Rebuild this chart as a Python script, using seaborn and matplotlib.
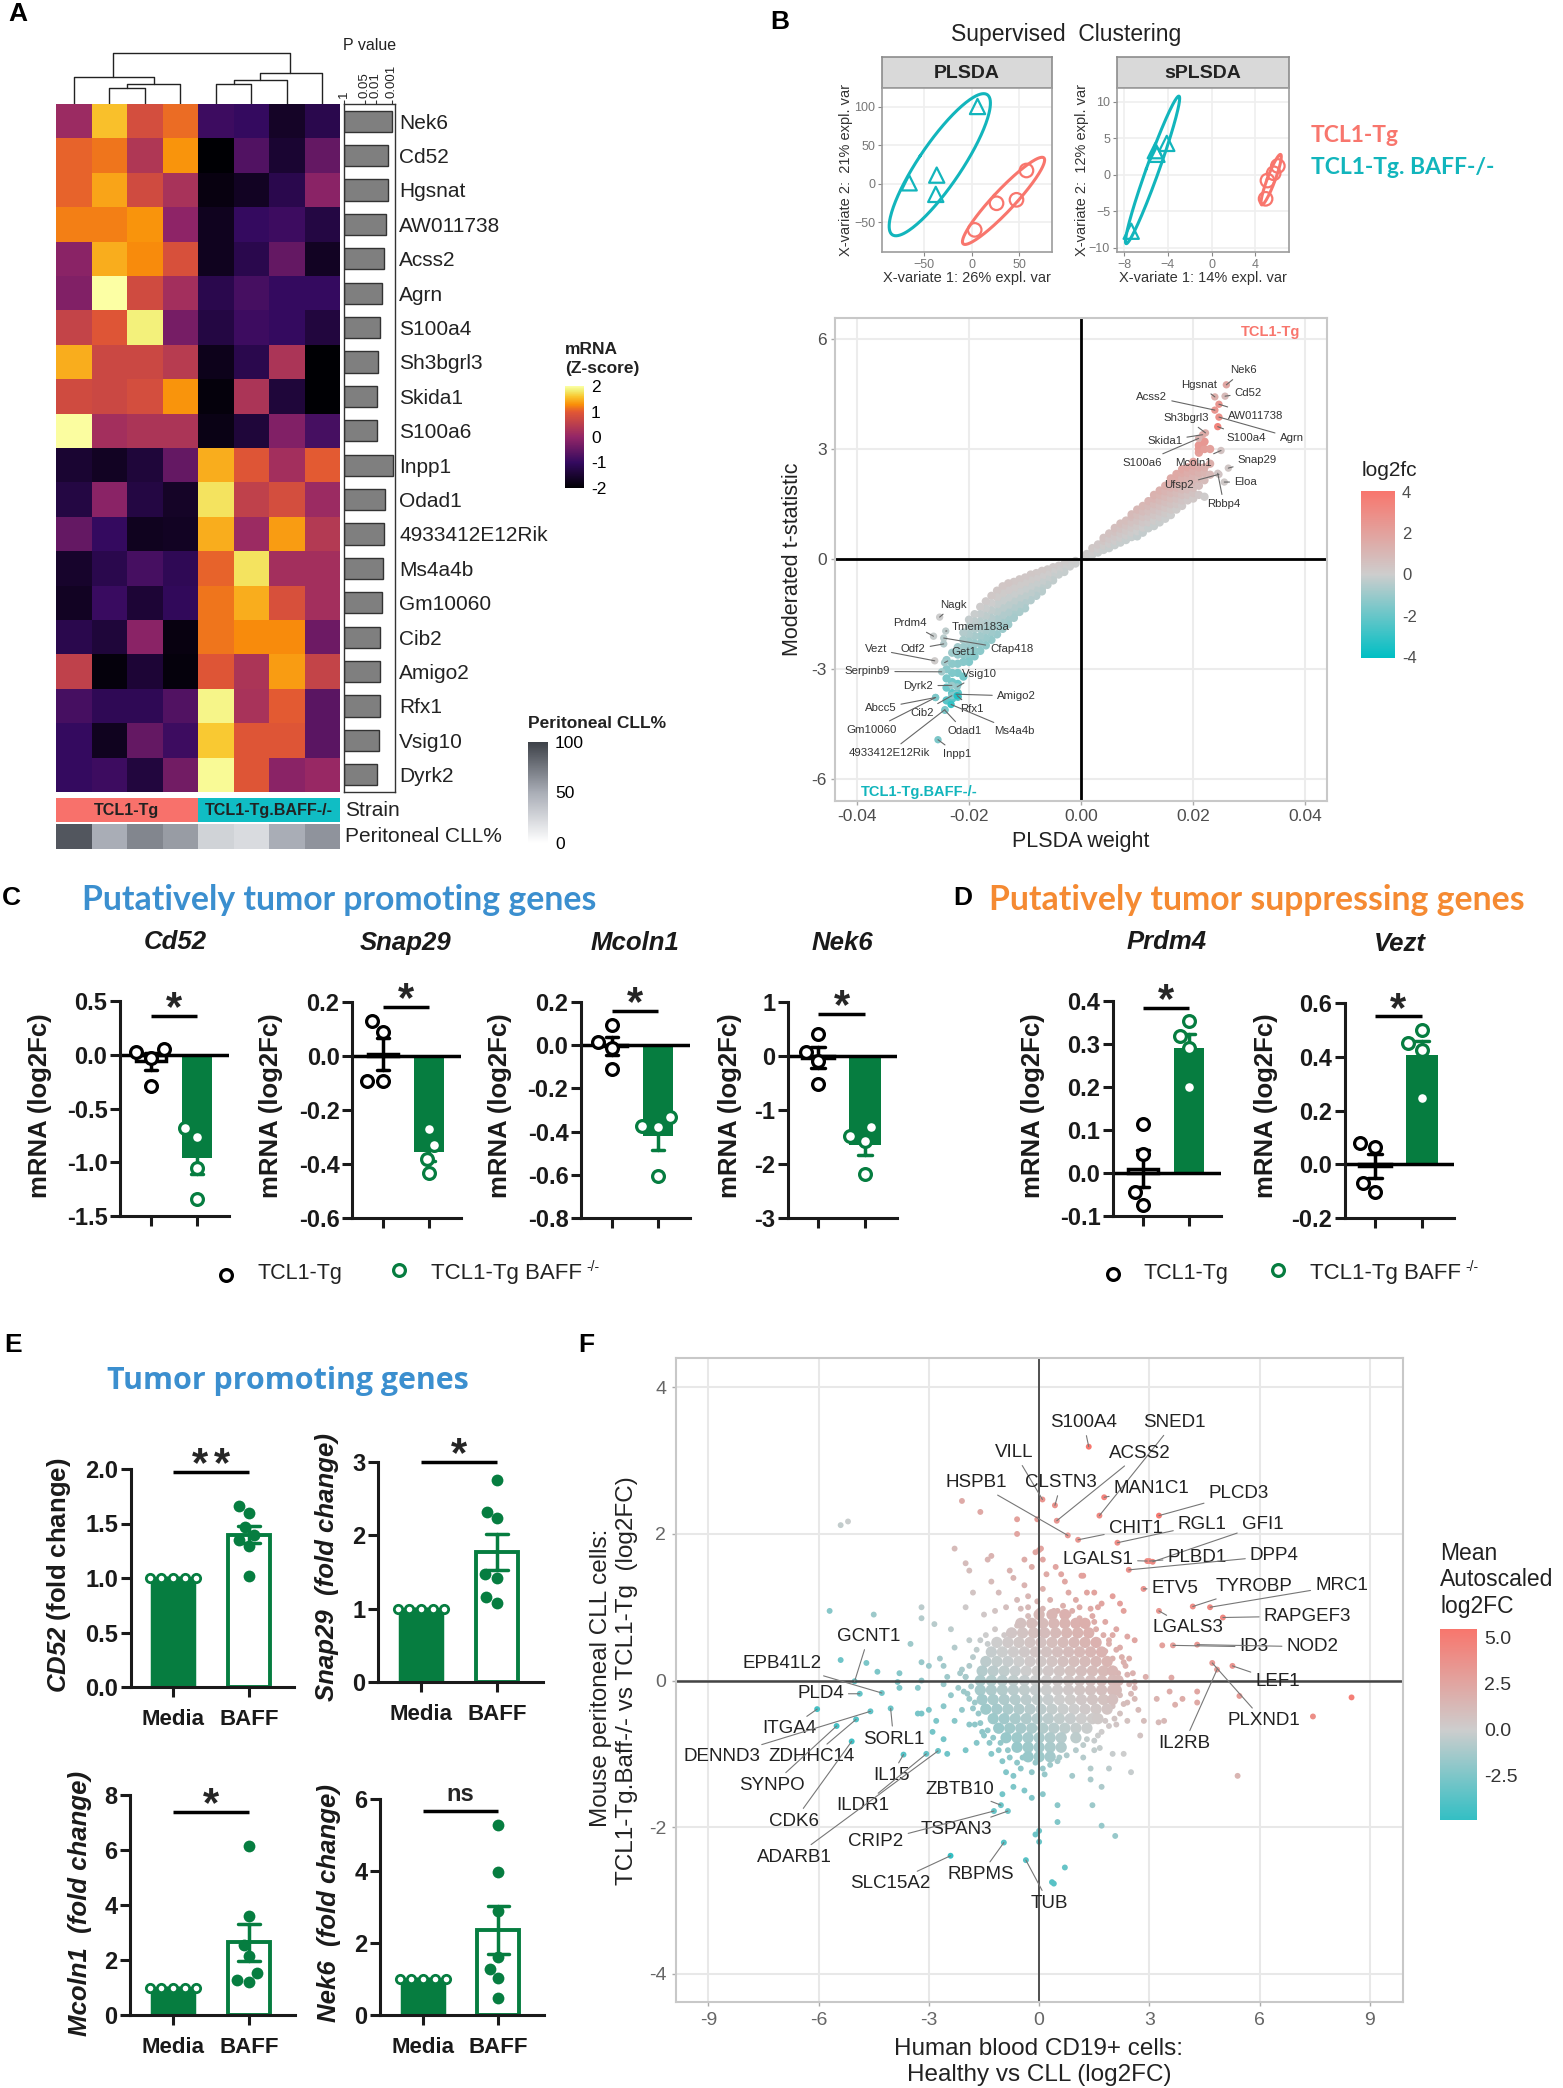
import numpy as np
import pandas as pd
import matplotlib
matplotlib.use("Agg")
import matplotlib.pyplot as plt
from matplotlib import cm
from matplotlib.colors import LinearSegmentedColormap, ListedColormap, Normalize
import seaborn as sns

W, H = 1563, 2088
SALMON = "#F8766D"
TEAL = "#00BFC4"
GREEN = "#067D40"
GRAY_TXT = "#4d4d4d"

# ---- panel A ----
genes = ["Nek6", "Cd52", "Hgsnat", "AW011738", "Acss2", "Agrn", "S100a4", "Sh3bgrl3", "Skida1", "S100a6",
         "Inpp1", "Odad1", "4933412E12Rik", "Ms4a4b", "Gm10060", "Cib2", "Amigo2", "Rfx1", "Vsig10", "Dyrk2"]
zscores = [
    [0.10, 1.55, 0.80, 1.10, -0.90, -1.00, -1.60, -1.20],
    [1.05, 1.15, 0.35, 1.30, -2.00, -0.70, -1.50, -0.50],
    [1.05, 1.40, 0.75, 0.25, -1.85, -1.65, -1.20, -0.10],
    [1.20, 1.20, 1.30, -0.05, -1.70, -1.00, -0.90, -1.30],
    [-0.10, 1.45, 1.25, 0.85, -1.70, -1.20, -0.50, -1.65],
    [-0.20, 2.00, 0.75, 0.20, -1.20, -0.80, -1.00, -1.00],
    [0.60, 0.95, 1.85, -0.30, -1.30, -0.90, -1.00, -1.35],
    [1.45, 0.70, 0.70, 0.45, -1.75, -1.20, 0.30, -2.00],
    [0.75, 0.70, 0.80, 1.30, -1.90, 0.30, -1.40, -2.00],
    [1.97, 0.20, 0.30, 0.30, -1.80, -1.40, -0.20, -0.80],
    [-1.50, -1.65, -1.40, -0.50, 1.45, 0.95, 0.20, 1.00],
    [-1.30, -0.10, -1.30, -1.60, 1.75, 0.55, 0.80, 0.10],
    [-0.50, -1.00, -1.70, -1.65, 1.45, 0.10, 1.35, 0.40],
    [-1.55, -1.20, -0.80, -1.10, 1.05, 1.75, 0.20, 0.20],
    [-1.65, -0.95, -1.45, -1.05, 1.15, 1.45, 0.85, 0.20],
    [-1.20, -1.40, -0.10, -1.85, 1.15, 1.25, 1.25, -0.40],
    [0.55, -1.90, -1.45, -1.90, 0.95, 0.30, 1.35, 0.60],
    [-0.80, -1.10, -1.10, -0.70, 1.90, 0.25, 1.00, -0.60],
    [-1.00, -1.70, -0.50, -0.90, 1.60, 0.95, 0.95, -0.60],
    [-1.00, -0.90, -1.35, -0.35, 1.95, 0.95, -0.10, 0.05],
]
pvals_log = [3.0, 2.77, 2.77, 2.62, 2.53, 2.39, 2.24, 2.13, 2.10, 2.07,
             3.06, 2.60, 2.50, 2.42, 2.36, 2.27, 2.27, 2.27, 2.19, 2.10]
p_tick_pos = [0, 1.3, 2, 3]
p_tick_lab = ["1", "0.05", "0.01", "0.001"]
strain_codes = [[0, 0, 0, 0, 1, 1, 1, 1]]
peritoneal_pct = [[90, 50, 68, 58, 27, 22, 50, 62]]
# merges: left x, left h, right x, right h, merge h
dendro_merges = [
    (1.5, 0, 2.5, 0, 30), (2.0, 30, 3.5, 0, 37), (0.5, 0, 2.75, 37, 50),
    (4.5, 0, 5.5, 0, 37), (5.0, 37, 6.5, 0, 45), (5.75, 45, 7.5, 0, 57),
    (1.6, 50, 6.6, 57, 95),
]

# ---- panel B, ordination ----
pls_tcl_x = [57.5, 26, 47, 3]
pls_tcl_y = [17, -25.5, -21, -60]
pls_baff_x = [6, -66, -37, -38]
pls_baff_y = [100, 1, 11, -14]
spls_tcl_x = [6.05, 5.67, 5.1, 4.93]
spls_tcl_y = [1.2, 0.2, -0.8, -3.3]
spls_baff_x = [-4.1, -5.15, -5.0, -7.35]
spls_baff_y = [4.3, 3.3, 2.8, -7.75]

# ---- panel B, weight vs t-statistic ----
b_columns = [
    (.001, [.06, .14]), (.002, [.12, .2, .3]), (.003, [.18, .28, .4]), (.004, [.25, .37, .5, .58]),
    (.005, [.3, .42, .55, .7]), (.006, [.38, .5, .62, .75, .85]), (.007, [.45, .58, .7, .83, .97]),
    (.008, [.52, .65, .78, .92, 1.05]), (.009, [.6, .72, .86, 1.0, 1.15, 1.22]),
    (.010, [.62, .76, .9, 1.05, 1.2, 1.35]), (.011, [.72, .86, 1.0, 1.15, 1.3, 1.45]),
    (.012, [.84, 1.0, 1.15, 1.3, 1.45, 1.58]), (.013, [.9, 1.05, 1.2, 1.35, 1.5, 1.65, 1.75]),
    (.014, [1.0, 1.15, 1.3, 1.45, 1.6, 1.75, 1.87]), (.015, [1.1, 1.25, 1.4, 1.55, 1.7, 1.85, 2.0]),
    (.016, [1.2, 1.35, 1.5, 1.65, 1.8, 1.95, 2.1, 2.2]), (.017, [1.35, 1.5, 1.65, 1.8, 1.95, 2.1, 2.25, 2.32]),
    (.018, [1.45, 1.6, 1.75, 1.9, 2.05, 2.2, 2.35, 2.45]), (.019, [1.6, 1.75, 1.9, 2.05, 2.2, 2.35, 2.5]),
    (.020, [1.65, 1.8, 1.95, 2.1, 2.25, 2.4, 2.55, 2.65]), (.021, [1.75, 2.0, 2.2, 2.35, 2.5, 2.9, 3.0, 3.1]),
    (.022, [1.7, 2.15, 2.35, 2.5, 3.0, 3.2]), (.023, [2.3, 2.6, 3.0]),
    (-.001, [-.05, -.12]), (-.002, [-.1, -.2]), (-.003, [-.13, -.25, -.35]), (-.004, [-.18, -.3, -.42]),
    (-.005, [-.22, -.35, -.48, -.58]), (-.006, [-.28, -.42, -.56, -.7]), (-.007, [-.32, -.48, -.64, -.8, -.88]),
    (-.008, [-.38, -.54, -.7, -.86, -1.0]), (-.009, [-.42, -.58, -.76, -.94, -1.12]),
    (-.010, [-.5, -.66, -.84, -1.02, -1.2, -1.34]), (-.011, [-.55, -.72, -.9, -1.08, -1.26, -1.44]),
    (-.012, [-.62, -.8, -.98, -1.16, -1.34, -1.52, -1.6]), (-.013, [-.66, -.86, -1.06, -1.26, -1.46, -1.66, -1.78]),
    (-.014, [-.74, -.94, -1.14, -1.34, -1.54, -1.74, -1.9]), (-.015, [-.86, -1.04, -1.24, -1.44, -1.64, -1.84, -2.05]),
    (-.016, [-1.0, -1.2, -1.4, -1.6, -1.8, -2.0, -2.2]), (-.017, [-1.15, -1.35, -1.55, -1.75, -1.95, -2.15, -2.35]),
    (-.018, [-1.3, -1.5, -1.7, -1.9, -2.1, -2.3, -2.5]), (-.019, [-1.5, -1.7, -1.9, -2.1, -2.3, -2.5, -2.65]),
    (-.020, [-1.65, -1.85, -2.05, -2.25, -2.45, -2.65, -2.8]), (-.021, [-2.0, -2.2, -2.4, -2.6, -2.8, -3.2]),
    (-.022, [-2.4, -2.6, -2.85, -3.1, -3.4, -3.65, -3.75]), (-.023, [-2.55, -2.85, -3.1, -3.35, -3.65, -3.8]),
    (-.024, [-2.75, -3.0, -3.25, -3.5, -3.85]),
]
b_names = ["Nek6", "Hgsnat", "Cd52", "Acss2", "AW011738", "Sh3bgrl3", "Agrn", "S100a4", "Skida1", "S100a6",
           "Mcoln1", "Snap29", "Eloa", "Ufsp2", "Rbbp4",
           "Nagk", "Prdm4", "Tmem183a", "Vezt", "Odf2", "Cfap418", "Get1", "Serpinb9", "Vsig10", "Dyrk2",
           "Amigo2", "Abcc5", "Cib2", "Rfx1", "Gm10060", "Ms4a4b", "Odad1", "4933412E12Rik", "Inpp1"]
b_point_x = [.0259, .02385, .02567, .02385, .02458, .02218, .02458, .02436, .02167, .02095,
             .02495, .02625, .02553, .02458, .02436,
             -.02524, -.02633, -.02415, -.02611, -.02451, -.02451, -.02436, -.02487, -.02211, -.02305,
             -.02233, -.02596, -.02305, -.02211, -.02596, -.0232, -.02429, -.02429, -.02553]
b_point_y = [4.75, 4.42, 4.44, 4.06, 4.22, 3.44, 3.87, 3.61, 3.39, 3.29,
             2.96, 2.48, 2.10, 2.31, 2.34,
             -1.58, -2.10, -1.96, -2.77, -2.31, -2.15, -2.82, -3.07, -3.48, -3.44,
             -3.68, -3.77, -3.72, -3.72, -3.77, -3.96, -4.12, -4.10, -4.92]
b_text_x = [.02902, .02102, .02982, .01258, .03113, .01876, .03753, .02945, .01491, .01091,
            .02007, .03142, .02931, .01745, .02545,
            -.02269, -.03047, -.01796, -.03665, -.02996, -.01236, -.02087, -.03811, -.01811, -.02902,
            -.01156, -.03578, -.02844, -.01942, -.03731, -.01185, -.02087, -.03425, -.02211]
b_text_y = [5.14, 4.75, 4.53, 4.43, 3.91, 3.84, 3.31, 3.31, 3.23, 2.63,
            2.63, 2.69, 2.10, 2.02, 1.50,
            -1.25, -1.75, -1.84, -2.46, -2.46, -2.46, -2.53, -3.06, -3.13, -3.45,
            -3.73, -4.06, -4.18, -4.08, -4.65, -4.69, -4.68, -5.28, -5.31]
b_label_fc = [1.8, 1.4, 0.9, 2.6, 2.6, 1.4, 2.8, 3.4, 1.6, 1.2,
              0.5, 0.3, 0.2, 0.4, 0.4,
              0, -0.1, -0.3, 0.1, -0.5, -0.4, -0.8, -0.8, -1.2, -1.0,
              -1.4, -1.4, -1.4, -3.4, -1.6, -3.0, -1.6, -1.6, -1.6]

# ---- panels C and D ----
groups_mouse = ["TCL1-Tg", "TCL1-Tg BAFF-/-"]
cd52_tcl = [0.057, 0.026, -0.027, -0.29]
cd52_baff = [-0.68, -0.765, -1.05, -1.345]
snap29_tcl = [0.13, 0.09, -0.094, -0.094]
snap29_baff = [-0.27, -0.33, -0.38, -0.435]
mcoln1_tcl = [0.093, 0.014, -0.015, -0.11]
mcoln1_baff = [-0.334, -0.372, -0.377, -0.607]
nek6_tcl = [0.41, 0.07, -0.10, -0.525]
nek6_baff = [-1.32, -1.49, -1.58, -2.18]
prdm4_tcl = [0.113, 0.045, -0.044, -0.074]
prdm4_baff = [0.353, 0.319, 0.29, 0.20]
vezt_tcl = [0.078, 0.066, -0.068, -0.103]
vezt_baff = [0.50, 0.45, 0.424, 0.248]

# ---- panel E ----
groups_human = ["Media", "BAFF"]
media_vals = [1.0, 1.0, 1.0, 1.0, 1.0]
cd52_hu = [1.66, 1.60, 1.47, 1.39, 1.35, 1.29, 1.02]
snap29_hu = [2.75, 2.32, 2.23, 1.47, 1.42, 1.16, 1.08]
mcoln1_hu = [6.16, 3.59, 2.54, 2.14, 1.54, 1.29, 1.21]
nek6_hu = [5.29, 3.96, 2.90, 1.62, 1.29, 1.03, 0.48]

# ---- panel F ----
f_core_rows = [
    (0.9, [0.0, 0.35, 0.7]),
    (0.78, [-0.5, -0.2, 0.1, 0.4, 0.7, 1.0, 1.25]),
    (0.65, [-0.75, -0.45, -0.15, 0.15, 0.45, 0.75, 1.05, 1.35]),
    (0.52, [-1.15, -0.85, -0.55, -0.25, 0.05, 0.35, 0.65, 0.95, 1.25, 1.55]),
    (0.39, [-1.3, -1.0, -0.7, -0.4, -0.1, 0.2, 0.5, 0.8, 1.1, 1.4, 1.7]),
    (0.26, [-1.45, -1.15, -0.85, -0.55, -0.25, 0.05, 0.35, 0.65, 0.95, 1.25, 1.55, 1.85]),
    (0.13, [-1.55, -1.25, -0.95, -0.65, -0.35, -0.05, 0.25, 0.55, 0.85, 1.15, 1.45, 1.75, 2.0]),
    (0.0, [-1.6, -1.3, -1.0, -0.7, -0.4, -0.1, 0.2, 0.5, 0.8, 1.1, 1.4, 1.7, 2.0, 2.15]),
    (-0.13, [-1.6, -1.3, -1.0, -0.7, -0.4, -0.1, 0.2, 0.5, 0.8, 1.1, 1.4, 1.7, 2.0, 2.1]),
    (-0.26, [-1.55, -1.25, -0.95, -0.65, -0.35, -0.05, 0.25, 0.55, 0.85, 1.15, 1.45, 1.75, 2.0]),
    (-0.39, [-1.45, -1.15, -0.85, -0.55, -0.25, 0.05, 0.35, 0.65, 0.95, 1.25, 1.55, 1.85]),
    (-0.52, [-1.25, -0.95, -0.65, -0.35, -0.05, 0.25, 0.55, 0.85, 1.15, 1.45, 1.6]),
    (-0.65, [-1.1, -0.8, -0.5, -0.2, 0.1, 0.4, 0.7, 1.0, 1.3]),
    (-0.78, [-0.9, -0.6, -0.3, 0.0, 0.3, 0.6, 1.0]),
    (-0.91, [-0.6, -0.3, 0.0, 0.3, 0.6]),
    (-1.04, [-0.3, 0.0, 0.3]),
]
f_fringe = [
    (-2.0, .05), (-1.9, .2), (-1.8, .32), (-1.7, .42), (-1.85, -.08), (-1.75, -.3), (-1.65, -.45), (-1.95, -.18),
    (-1.8, -.38), (-1.6, -.58), (-1.4, -.68), (-1.25, -.78), (-1.05, -.85), (-.85, -.95), (-.95, .62), (-.6, .75),
    (-.3, .88), (.1, .98), (.5, .95), (.8, .9), (1.1, .85), (1.3, .78), (1.55, .7), (1.75, .62), (1.9, .5),
    (2.1, .42), (2.25, .32), (2.35, .2), (2.4, .08), (2.45, -.05), (2.5, -.18), (2.3, -.32), (2.2, -.45),
    (2.05, -.52), (1.9, -.62), (1.7, -.7), (1.5, -.82), (1.65, -.92), (1.2, -.88), (1.0, -.95), (.75, -1.02),
    (.5, -1.1), (-.1, -1.12), (-.45, -1.05), (-.8, -1.05), (-1.1, -.95), (-1.35, -.85), (-1.55, -.7), (-1.75, -.6),
    (-2.05, -.15), (-2.15, .1), (-1.45, .62), (-1.2, .7), (.65, 1.02), (-.05, 1.08), (-.5, .98), (1.45, .88),
    (2.0, .62), (2.45, .3), (2.6, -.02), (2.6, -.25), (2.4, -.55), (.15, -1.28), (-.6, -1.12),
]
f_sparse_x = [-.8, -.7, -.4, -.3, -.6, -1.1, -.9, -1.2, -.3, .1, .3, .6, .7, .8, 1.0, 1.1, 1.2, 1.3, 1.5, 1.6, 1.7, 2.0, 2.2,
              .4, .9, 1.4, 2.3, -1.8, -2.0, -1.5, -1.3, .2, .45, -.2, .1,
              -1.9, -1.6, -1.4, -2.3, -2.7, -2.6, -2.1, -2.0, -2.5, -3.0, -3.2, -2.2, -2.6, -2.4, -1.9, -2.1, -2.6, -3.0, -3.3,
              -2.8, -2.3, -1.9, -1.5, -1.7, -2.6, -2.5, -2.0, -1.3, -1.0, -.9, -.7, -.5, -.2, .1, .3, .55, -.7, -.4, -.2, .1, .5,
              -1.0, 1.4, 1.4, 1.7, .9, 1.45, 1.7, 2.07, .5, 0, -.1, 0, .7, .35, .4,
              2.1, 2.4, 2.6, 1.9, 2.2, 1.8, 2.0, 2.3, 2.55, 2.15, 2.9, 2.6, 2.2, 2.4, 2.0, 2.7, 1.8, 2.1, 1.6, 1.3, 1.5, 2.0, 2.3,
              1.9, 2.5, 1.2, 3.6, 3.2, 3.9, 3.7, 4.3, 4.3, 3.55, 3.35, 2.85, 2.75, 3.25, 3.4, 5.45, 7.45, 8.5, 5.4,
              -5.2, -5.4, -5.7, -4.5, -3.2, -3.2, -2.85, -2.4, -3.5, -5.4, -4.7, -4.4, -3.8, -3.85, -3.8, -3.2, -3.3, -2.9, -3.2,
              -2.1, -1.6, -.6, -.6, -.05, .05, -2.3, -2.0, -1.3, -1.4, -.4, -.1, 0, -1.9, 1.15, 1.5, 1.8, 0]
f_sparse_y = [1.5, 1.4, 1.3, 1.15, 1.1, 1.2, 1.0, .95, 1.0, 1.25, 1.1, 1.45, 1.35, 1.2, 1.1, 1.0, 1.43, 1.2, 1.2, 1.0, 1.05, 1.15, 1.05,
              .95, .95, .98, .95, 1.2, 1.0, .9, 1.35, 1.45, 1.55, 1.55, 1.65,
              .55, .55, .5, .45, .3, .2, .15, .05, .05, .2, .25, -.1, -.05, -.2, -.25, -.4, -.35, -.4, -.45,
              -.55, -.55, -.6, -.75, -.85, -.8, -1.0, -.95, -1.0, -1.1, -1.25, -1.3, -1.2, -1.25, -1.2, -1.15, -1.05, -1.45, -1.5, -1.6, -1.55, -1.7,
              -1.55, -1.35, -1.2, -1.45, -1.3, -1.7, -1.98, -2.12, -1.93, -2.05, -2.1, -2.2, -2.55, -2.75, -2.77,
              .7, .6, .55, .55, .45, .4, .3, .25, .1, .1, .05, -.1, -.2, -.3, -.35, -.4, -.55, -.6, -.75, -.8, -.95, -1.0, -1.0,
              -1.2, -1.25, -1.05, .04, -.25, -.25, -.33, -.15, -.3, -.15, .48, -.55, -.75, -.57, -.55, -.21, -.49, -.23, -1.3,
              2.17, 2.12, .95, .9, 1.0, .85, .77, .7, .5, .28, .24, .12, .1, -.02, -.1, 0, -.1, -.7, -.45,
              2.45, 2.3, 2.2, 2.0, 2.2, 1.8, 1.8, 1.6, 1.7, 1.65, 1.65, 1.75, 1.78, 1.5, 1.43, .8, .8, .95]
f_names = ["S100A4", "SNED1", "VILL", "ACSS2", "CLSTN3", "MAN1C1", "HSPB1", "PLCD3", "CHIT1", "RGL1", "GFI1",
           "LGALS1", "PLBD1", "DPP4", "ETV5", "TYROBP", "MRC1", "RAPGEF3", "LGALS3", "ID3", "NOD2", "LEF1",
           "PLXND1", "IL2RB", "GCNT1", "EPB41L2", "PLD4", "ITGA4", "SORL1", "DENND3", "ZDHHC14", "SYNPO", "CDK6",
           "IL15", "ILDR1", "ADARB1", "ZBTB10", "TSPAN3", "CRIP2", "SLC15A2", "RBPMS", "TUB"]
f_point_x = [1.35, 1.64, .09, .48, .43, 1.77, .78, 3.26, 1.06, 2.13, 3.09, 2.94, 3.0, 2.44, 2.84, 4.18, 4.65, 5.0, 3.26,
             3.64, 4.3, 5.26, 4.71, 4.84, -5.02, -4.28, -4.88, -6.04, -4.04, -4.59, -4.98, -5.51, -5.1, -3.69, -3.07,
             -2.75, -1.04, -.85, -1.23, -2.41, -.96, -.36]
f_point_y = [3.19, 2.25, 2.47, 2.18, 2.39, 2.50, 1.98, 2.25, 1.92, 1.88, 1.62, 1.63, 1.63, 1.51, 1.25, 1.01, 1.0, .86, .95,
             .48, .49, .2, .24, .15, -.01, -.17, -.18, -.39, -.38, -.42, -.53, -.62, -.83, -1.01, -1.0,
             -.96, -1.7, -1.78, -1.78, -2.39, -2.21, -2.45]
f_text_x = [1.21, 3.67, -.67, 2.75, .6, 3.06, -1.72, 5.43, 2.63, 4.44, 6.08, 1.59, 4.3, 6.4, 3.7, 5.84, 8.23, 7.3, 4.06,
            5.85, 7.44, 6.49, 6.11, 3.94, -4.64, -6.99, -5.95, -6.81, -3.96, -8.63, -6.18, -7.27, -6.67, -4.03, -4.8,
            -6.67, -2.17, -2.25, -4.44, -4.04, -1.59, .27]
f_text_y = [3.52, 3.52, 3.11, 3.10, 2.70, 2.62, 2.70, 2.55, 2.08, 2.13, 2.13, 1.65, 1.68, 1.70, 1.26, 1.28, 1.30, .88, .72,
            .46, .46, -.01, -.55, -.86, .6, .23, -.18, -.66, -.80, -1.04, -1.04, -1.43, -1.92, -1.3, -1.71,
            -2.41, -1.48, -2.03, -2.2, -2.77, -2.65, -3.04]

sns.set_theme(style="white")
plt.rcParams["font.family"] = ["Liberation Sans", "DejaVu Sans"]
plt.rcParams.update({"mathtext.fontset": "custom", "mathtext.rm": "Liberation Sans",
                     "mathtext.it": "Liberation Sans:italic", "mathtext.bf": "Liberation Sans:bold",
                     "mathtext.bfit": "Liberation Sans:italic:bold", "mathtext.default": "regular"})

fig = plt.figure(figsize=(W / 100, H / 100), dpi=100, facecolor="white")


def panel(l, t, r, b):
    return fig.add_axes([l / W, 1 - b / H, (r - l) / W, (b - t) / H])


def txt(x, y, s, ha="left", va="center", **kw):
    return fig.text(x / W, 1 - y / H, s, ha=ha, va=va, **kw)


def colorbar(box, cmap, norm, ticks, labels, size, color="black"):
    cax = panel(*box)
    cb = fig.colorbar(cm.ScalarMappable(norm=norm, cmap=cmap), cax=cax)
    cb.set_ticks(ticks, labels=labels)
    cb.outline.set_linewidth(0)
    cax.tick_params(axis="y", which="major", length=5, width=1, direction="in", color="white",
                    labelsize=size, labelcolor=color, pad=5, right=True, left=True)
    return cax


for letter, x, y in [("A", 8, 14), ("B", 770, 22), ("C", 2, 898), ("D", 953, 898), ("E", 4, 1345), ("F", 578, 1345)]:
    txt(x, y, letter, fontsize=19, fontweight="bold", color="black")

# ---- A ----
inferno = plt.get_cmap("inferno")
heat_cmap = LinearSegmentedColormap.from_list(
    "heat", [(0, inferno(0.0)), (.25, inferno(.17)), (.5, inferno(.40)), (.75, inferno(.62)),
             (.82, inferno(.75)), (.90, inferno(.87)), (.96, inferno(.95)), (1, inferno(1.0))])
hm_l, hm_r = 56, 340
ax = panel(hm_l, 104, hm_r, 792)
sns.heatmap(pd.DataFrame(zscores, index=genes), cmap=heat_cmap, vmin=-2, vmax=2, cbar=False,
            xticklabels=False, yticklabels=False, ax=ax)

ax = panel(hm_l, 52, hm_r, 104)
for xa, ha_, xb, hb, hm in dendro_merges:
    ax.plot([xa, xa, xb, xb], [ha_, hm, hm, hb], color="#222222", lw=1)
ax.set(xlim=(0, 8), ylim=(0, 97))
ax.axis("off")

ax = panel(344, 104, 395, 792)
sns.barplot(x=pvals_log, y=genes, orient="h", color="#7f7f7f", saturation=1, edgecolor="#333333",
            linewidth=1, width=.62, ax=ax)
ax.set_xlim(0, 3.2)
ax.xaxis.tick_top()
ax.set_xticks(p_tick_pos, labels=p_tick_lab, rotation=90, fontsize=9.5)
ax.yaxis.tick_right()
ax.tick_params(axis="y", length=0, labelsize=15, pad=3, labelcolor="#222222")
ax.tick_params(axis="x", length=3, width=.8, pad=1, top=True, color="#333333", labelcolor="#222222")
for s in ax.spines.values():
    s.set_linewidth(1)
    s.set_color("#333333")
txt(369.5, 46, "P value", ha="center", fontsize=11.5, color="#222222")

ax = panel(hm_l, 798, hm_r, 822)
sns.heatmap(strain_codes, cmap=ListedColormap(["#F8716B", "#10BDC4"]), cbar=False,
            xticklabels=False, yticklabels=False, ax=ax)
ax.text(2, .5, "TCL1-Tg", ha="center", va="center", fontsize=11.6, fontweight="bold", color="#222222")
ax.text(6, .5, "TCL1-Tg.BAFF-/-", ha="center", va="center", fontsize=11.6, fontweight="bold", color="#222222")
gray_cmap = LinearSegmentedColormap.from_list("cll", ["#ffffff", "#a9adb6", "#3d4148"])
ax = panel(hm_l, 824, hm_r, 849)
sns.heatmap(peritoneal_pct, cmap=gray_cmap, vmin=0, vmax=100, cbar=False,
            xticklabels=False, yticklabels=False, ax=ax)
txt(345, 810, "Strain", fontsize=15, color="#222222")
txt(345, 837, "Peritoneal CLL%", fontsize=15, color="#222222")

txt(565, 350, "mRNA", fontsize=12.5, fontweight="bold", color="#222222")
txt(565, 369, "(Z-score)", fontsize=12.5, fontweight="bold", color="#222222")
colorbar((565, 386, 584, 488), heat_cmap, Normalize(-2, 2), [-2, -1, 0, 1, 2], ["-2", "-1", "0", "1", "2"], 12.5)
txt(528, 724, "Peritoneal CLL%", fontsize=12.5, fontweight="bold", color="#222222")
colorbar((528, 742, 548, 843), gray_cmap, Normalize(0, 100), [0, 50, 100], ["0", "50", "100"], 12.5)

# ---- B top ----
txt(1066, 35, "Supervised  Clustering", ha="center", fontsize=16.5, color="#222222")


def ellipse(ax, xs, ys, color):
    # 80% normal ellipse from the group's covariance
    pts = np.column_stack([xs, ys])
    vals, vecs = np.linalg.eigh(np.cov(pts.T))
    t = np.linspace(0, 2 * np.pi, 200)
    circle = np.column_stack([np.cos(t), np.sin(t)]) * np.sqrt(vals) * 1.794
    curve = circle @ vecs.T + pts.mean(axis=0)
    ax.plot(curve[:, 0], curve[:, 1], color=color, lw=2.2)


def ordination(box, strip_title, tcl, baff, xlim, ylim, xticks, yticks, xlabel, ylabel, xl_x, yl_x):
    l, t, r, b = box
    strip = panel(l, t - 31, r, t)
    strip.set_facecolor("#d9d9d9")
    strip.set(xticks=[], yticks=[])
    for s in strip.spines.values():
        s.set_color("#8c8c8c")
        s.set_linewidth(1.2)
    strip.text(.5, .48, strip_title, transform=strip.transAxes, ha="center", va="center",
               fontsize=14, fontweight="bold", color="#222222")
    ax = panel(l, t, r, b)
    ax.grid(True, color="#efefef", lw=1.2)
    ax.set_axisbelow(True)
    sns.scatterplot(x=tcl[0], y=tcl[1], marker="o", s=95, facecolor="none", edgecolor=SALMON, linewidth=1.6, ax=ax)
    sns.scatterplot(x=baff[0], y=baff[1], marker="^", s=120, facecolor="none", edgecolor="#12B5BC", linewidth=1.6, ax=ax)
    ellipse(ax, tcl[0], tcl[1], SALMON)
    ellipse(ax, baff[0], baff[1], "#12B5BC")
    ax.set(xlim=xlim, ylim=ylim)
    ax.set_xticks(xticks)
    ax.set_yticks(yticks)
    ax.tick_params(labelsize=9, labelcolor="#777777", length=3, width=.8, color="#888888", pad=2, bottom=True, left=True)
    for s in ax.spines.values():
        s.set_color("#9c9c9c")
        s.set_linewidth(1.2)
    txt(xl_x, 278, xlabel, ha="center", fontsize=10.5, color="#333333")
    txt(yl_x, 170, ylabel, ha="center", rotation=90, fontsize=10.5, color="#333333")


ordination((882, 88, 1052, 252), "PLSDA", (pls_tcl_x, pls_tcl_y), (pls_baff_x, pls_baff_y), (-94.6, 84.4), (-88.7, 124),
           [-50, 0, 50], [-50, 0, 50, 100], "X-variate 1: 26% expl. var", "X-variate 2:  21% expl. var", 967, 846)
ordination((1117, 88, 1289, 252), "sPLSDA", (spls_tcl_x, spls_tcl_y), (spls_baff_x, spls_baff_y), (-8.65, 7.07), (-10.6, 11.9),
           [-8, -4, 0, 4], [-10, -5, 0, 5, 10], "X-variate 1: 14% expl. var", "X-variate 2:  12% expl. var", 1203, 1082)
txt(1311, 136, "TCL1-Tg", fontfamily="Lato", fontweight="bold", fontsize=16.5, color=SALMON)
txt(1311, 168, "TCL1-Tg. BAFF-/-", fontfamily="Lato", fontweight="bold", fontsize=16.5, color="#12B5BC")

# ---- B weights ----
fc_cmap = LinearSegmentedColormap.from_list("fc", [TEAL, "#cdcdcd", SALMON])
fc_norm = Normalize(-4.05, 4.05)
ax = panel(835, 318, 1327, 801)
ax.grid(True, color="#ececec", lw=1.5)
ax.set_axisbelow(True)
b_x = np.array([x for x, ys in b_columns for _ in ys])
b_y = np.array([y for _, ys in b_columns for y in ys])
# colour follows the offset from the main diagonal of the band, paler on the negative side
b_fc = (1.6 * b_y - 120 * b_x) * np.where(b_y < 0, 0.7, 1.0)
sns.scatterplot(x=b_x, y=b_y, hue=b_fc, palette=fc_cmap, hue_norm=fc_norm, s=36, linewidth=0, legend=False, ax=ax)
sns.scatterplot(x=b_point_x, y=b_point_y, hue=b_label_fc, palette=fc_cmap, hue_norm=fc_norm, s=28, linewidth=0,
                legend=False, ax=ax)
ax.axhline(0, color="black", lw=2)
ax.axvline(0, color="black", lw=2)
for n, px_, py_, tx_, ty_ in zip(b_names, b_point_x, b_point_y, b_text_x, b_text_y):
    ax.annotate(n, (px_, py_), xytext=(tx_, ty_), ha="center", va="center", fontsize=8.2, color="#333333",
                arrowprops=dict(arrowstyle="-", color="#666666", lw=.8, shrinkA=1, shrinkB=0))
ax.set(xlim=(-.0439, .04385), ylim=(-6.59, 6.57))
ax.set_xticks([-.04, -.02, 0, .02, .04], labels=["-0.04", "-0.02", "0.00", "0.02", "0.04"])
ax.set_yticks([-6, -3, 0, 3, 6], labels=["-6", "-3", "0", "3", "6"])
ax.tick_params(labelsize=12.5, labelcolor=GRAY_TXT, length=3, width=1, color="#aaaaaa", pad=3, bottom=True, left=True)
for s in ax.spines.values():
    s.set_color("#c8c8c8")
    s.set_linewidth(1.5)
ax.text(.0338, 6.2, "TCL1-Tg", ha="center", va="center", fontsize=10.5, fontweight="bold", color=SALMON)
ax.text(-.0289, -6.35, "TCL1-Tg.BAFF-/-", ha="center", va="center", fontsize=10.5, fontweight="bold", color="#12B5BC")
txt(1081, 842, "PLSDA weight", ha="center", fontsize=15.5, color="#222222")
txt(792, 559, "Moderated t-statistic", ha="center", rotation=90, fontsize=15.5, color="#222222")
txt(1362, 471, "log2fc", fontsize=15, color="#222222")
colorbar((1361, 491, 1395, 658), fc_cmap, fc_norm, [-4, -2, 0, 2, 4], ["-4", "-2", "0", "2", "4"], 12, GRAY_TXT)


# ---- C, D, E bars ----
def bar_panel(box, cat_px, ylim, yticks, ylabels, groups, vals0, vals1, style, sig, sig_y):
    l, t, r, b = box
    ax = panel(l, t, r, b)
    df = pd.DataFrame({"group": [groups[0]] * len(vals0) + [groups[1]] * len(vals1), "value": vals0 + vals1})
    first = df[df.group == groups[0]]
    second = df[df.group == groups[1]]
    if style == "mouse":
        spec0 = dict(color="white", edgecolor="black", linewidth=2.5, width=.66)
        spec1 = dict(color=GREEN, edgecolor=GREEN, linewidth=0, width=.66)
        err0, err1 = "black", GREEN
        dot0 = dict(color="white", edgecolor="black", linewidth=2.3, size=8.5)
        dot1 = dict(color="white", edgecolor=GREEN, linewidth=2.3, size=8.5)
    else:
        spec0 = dict(color=GREEN, edgecolor=GREEN, linewidth=2.5, width=.56)
        spec1 = dict(color="white", edgecolor=GREEN, linewidth=2.8, width=.56)
        err0, err1 = GREEN, GREEN
        dot0 = dict(color="white", edgecolor=GREEN, linewidth=2, size=6)
        dot1 = dict(color=GREEN, edgecolor=GREEN, linewidth=0, size=8.5)
    for part, spec, ec in [(first, spec0, err0), (second, spec1, err1)]:
        sns.barplot(data=part, x="group", y="value", order=groups, saturation=1, errorbar="se", capsize=.28,
                    err_kws={"color": ec, "linewidth": 2.5}, ax=ax, **spec)
    if style == "mouse":
        ax.axhline(0, color="black", lw=2.5, zorder=2.5)
    sns.swarmplot(data=first, x="group", y="value", order=groups, ax=ax, zorder=4, **dot0)
    sns.swarmplot(data=second, x="group", y="value", order=groups, ax=ax, zorder=4, **dot1)
    step = cat_px[1] - cat_px[0]
    ax.set_xlim((l - cat_px[0]) / step, (r - cat_px[0]) / step)
    ax.set_ylim(*ylim)
    ax.set_yticks(yticks, labels=ylabels)
    ax.set(xlabel="", ylabel="")
    sns.despine(ax=ax)
    for s in ("left", "bottom"):
        ax.spines[s].set_linewidth(2.2)
        ax.spines[s].set_color("#1a1a1a")
    ax.tick_params(axis="both", length=7, width=2.2, color="#1a1a1a", labelcolor="#1a1a1a", pad=2, bottom=True, left=True)
    ax.tick_params(axis="y", labelsize=17)
    for lab in ax.get_yticklabels():
        lab.set_fontweight("bold")
    if style == "mouse":
        ax.set_xticklabels([])
    else:
        ax.tick_params(axis="x", labelsize=16, pad=9)
        for lab in ax.get_xticklabels():
            lab.set_fontweight("bold")
    ax.plot([0, 1], [sig_y, sig_y], color="black", lw=2.5, clip_on=False, solid_capstyle="butt")
    if sig == "ns":
        ax.annotate("ns", (.5, sig_y), xytext=(0, 4), textcoords="offset points", ha="center", va="bottom",
                    fontsize=17, fontweight="bold", annotation_clip=False)
    else:
        shifts = [-8, 8] if sig == "**" else [0]
        for dx in shifts:
            ax.annotate("*", (.5, sig_y), xytext=(dx, -3), textcoords="offset points", ha="center", va="baseline",
                        fontsize=30, fontweight="bold", annotation_clip=False)
    return ax


txt(82, 900, "Putatively tumor promoting genes", fontfamily="Lato", fontweight="bold", fontsize=24.3, color="#3B8FCF")
txt(989, 900, "Putatively tumor suppressing genes", fontfamily="Lato", fontweight="bold", fontsize=24.3, color="#F58A32")
txt(107, 1381, "Tumor promoting genes", fontfamily="Open Sans", fontweight="bold", fontsize=21.9, color="#3B8FCF")

bar_panel((120, 1001, 229, 1216), (151, 197), (-1.5, .5), [-1.5, -1, -.5, 0, .5], ["-1.5", "-1.0", "-0.5", "0.0", "0.5"],
          groups_mouse, cd52_tcl, cd52_baff, "mouse", "*", .36)
bar_panel((352, 1002, 461, 1218), (383, 429), (-.6, .2), [-.6, -.4, -.2, 0, .2], ["-0.6", "-0.4", "-0.2", "0.0", "0.2"],
          groups_mouse, snap29_tcl, snap29_baff, "mouse", "*", .18)
bar_panel((581, 1002, 690, 1218), (612, 658), (-.8, .2), [-.8, -.6, -.4, -.2, 0, .2],
          ["-0.8", "-0.6", "-0.4", "-0.2", "0.0", "0.2"],
          groups_mouse, mcoln1_tcl, mcoln1_baff, "mouse", "*", .16)
bar_panel((788, 1002, 897, 1218), (818, 865), (-3, 1), [-3, -2, -1, 0, 1], ["-3", "-2", "-1", "0", "1"],
          groups_mouse, nek6_tcl, nek6_baff, "mouse", "*", .78)
bar_panel((1113, 1001, 1221, 1216), (1143, 1189), (-.1, .4), [-.1, 0, .1, .2, .3, .4],
          ["-0.1", "0.0", "0.1", "0.2", "0.3", "0.4"],
          groups_mouse, prdm4_tcl, prdm4_baff, "mouse", "*", .383)
bar_panel((1345, 1003, 1454, 1218), (1375, 1422), (-.2, .6), [-.2, 0, .2, .4, .6], ["-0.2", "0.0", "0.2", "0.4", "0.6"],
          groups_mouse, vezt_tcl, vezt_baff, "mouse", "*", .55)

for name, x, y in [("Cd52", 175, 942), ("Snap29", 406, 943), ("Mcoln1", 635, 943), ("Nek6", 842, 943),
                   ("Prdm4", 1167, 942), ("Vezt", 1400, 944)]:
    txt(x, y, name, ha="center", fontsize=18.5, fontweight="bold", fontstyle="italic", color="#1a1a1a")
for x in [40, 271, 500, 730, 1033, 1266]:
    txt(x, 1106, "mRNA (log2Fc)", ha="center", rotation=90, fontsize=18.5, fontweight="bold", color="#1a1a1a")

overlay = fig.add_axes([0, 0, 1, 1], facecolor="none", zorder=10)
overlay.set(xlim=(0, W), ylim=(H, 0))
overlay.axis("off")
for x, y, col in [(226, 1275, "black"), (399, 1270, GREEN), (1113, 1274, "black"), (1278, 1270, GREEN)]:
    overlay.plot([x], [y], "o", ms=8.5, mfc="white", mec=col, mew=2.3)
for x in [257, 1144]:
    txt(x, 1274, "TCL1-Tg", fontsize=15.5, color="#222222")
for x, sup_x in [(431, 586), (1310, 1465)]:
    txt(x, 1274, "TCL1-Tg BAFF", fontsize=16, color="#222222")
    txt(sup_x, 1267, "-/-", fontsize=10, color="#222222")

bar_panel((131, 1469, 294, 1687), (173, 249), (0, 2), [0, .5, 1, 1.5, 2], ["0.0", "0.5", "1.0", "1.5", "2.0"],
          groups_human, media_vals, cd52_hu, "human", "**", 1.97)
bar_panel((378, 1462, 543, 1682), (421, 497), (0, 3), [0, 1, 2, 3], ["0", "1", "2", "3"],
          groups_human, media_vals, snap29_hu, "human", "*", 3.0)
bar_panel((130, 1795, 295, 2015), (173, 249), (0, 8), [0, 2, 4, 6, 8], ["0", "2", "4", "6", "8"],
          groups_human, media_vals, mcoln1_hu, "human", "*", 7.37)
bar_panel((380, 1799, 544, 2015), (423, 498), (0, 6), [0, 2, 4, 6], ["0", "2", "4", "6"],
          groups_human, media_vals, nek6_hu, "human", "ns", 5.66)
for x, y, s in [(59, 1575, r"$\mathbfit{CD52}$ (fold change)"), (327, 1567, "Snap29  (fold change)"),
                (80, 1903, "Mcoln1  (fold change)"), (329, 1903, "Nek6  (fold change)")]:
    style = "normal" if s.startswith("$") else "italic"
    txt(x, y, s, ha="center", rotation=90, fontsize=18.5, fontweight="bold", fontstyle=style, color="#1a1a1a")

# ---- F ----
f_cmap = LinearSegmentedColormap.from_list("auto", [(0, "#33BFC4"), (4.9 / 10.38, "#cdcdcd"), (1, SALMON)])
f_norm = Normalize(-4.9, 5.48)
f_core_x = np.array([x for _, xs in f_core_rows for x in xs])
f_core_y = np.array([y for y, xs in f_core_rows for _ in xs])
f_fringe_x = np.array([p[0] for p in f_fringe])
f_fringe_y = np.array([p[1] for p in f_fringe])


def autoscaled(x, y):
    # mean of the two log2FC after dividing each by its spread
    return (np.asarray(x) / 0.8 + np.asarray(y) / 0.35) / 2


ax = panel(676, 1358, 1403, 2002)
ax.grid(True, color="#e8e8e8", lw=1.5)
ax.set_axisbelow(True)
for xs, ys, size in [(f_sparse_x, f_sparse_y, 18), (f_fringe_x, f_fringe_y, 18), (f_core_x, f_core_y, 66),
                     (f_point_x, f_point_y, 18)]:
    sns.scatterplot(x=xs, y=ys, hue=autoscaled(xs, ys), palette=f_cmap, hue_norm=f_norm,
                    s=size, linewidth=0, legend=False, ax=ax)
ax.axhline(0, color="#444444", lw=1.8)
ax.axvline(0, color="#444444", lw=1.3)
for n, px_, py_, tx_, ty_ in zip(f_names, f_point_x, f_point_y, f_text_x, f_text_y):
    ax.annotate(n, (px_, py_), xytext=(tx_, ty_), ha="center", va="center", fontsize=13.5, color="#222222",
                arrowprops=dict(arrowstyle="-", color="#777777", lw=.8, shrinkA=1, shrinkB=0))
ax.set(xlim=(-9.88, 9.9), ylim=(-4.385, 4.40))
ax.set_xticks([-9, -6, -3, 0, 3, 6, 9], labels=["-9", "-6", "-3", "0", "3", "6", "9"])
ax.set_yticks([-4, -2, 0, 2, 4], labels=["-4", "-2", "0", "2", "4"])
ax.tick_params(labelsize=14, labelcolor="#666666", length=3, width=1, color="#aaaaaa", pad=4, bottom=True, left=True)
for s in ax.spines.values():
    s.set_color("#c8c8c8")
    s.set_linewidth(1.5)
txt(1039, 2049, "Human blood CD19+ cells:", ha="center", fontsize=17.5, color="#222222")
txt(1039, 2075, "Healthy vs CLL (log2FC)", ha="center", fontsize=17.5, color="#222222")
txt(601, 1678, "Mouse peritoneal CLL cells:", ha="center", rotation=90, fontsize=17.5, color="#222222")
txt(627, 1681, "TCL1-Tg.Baff-/- vs TCL1-Tg  (log2FC)", ha="center", rotation=90, fontsize=17.5, color="#222222")
for y, s in [(1554, "Mean"), (1580, "Autoscaled"), (1606, "log2FC")]:
    txt(1440, y, s, fontsize=16.5, color="#222222")
colorbar((1440, 1629, 1477, 1820), f_cmap, f_norm, [-2.5, 0, 2.5, 5], ["-2.5", "0.0", "2.5", "5.0"], 14, "#333333")

fig.savefig("out.png", dpi=100)
plt.close(fig)
